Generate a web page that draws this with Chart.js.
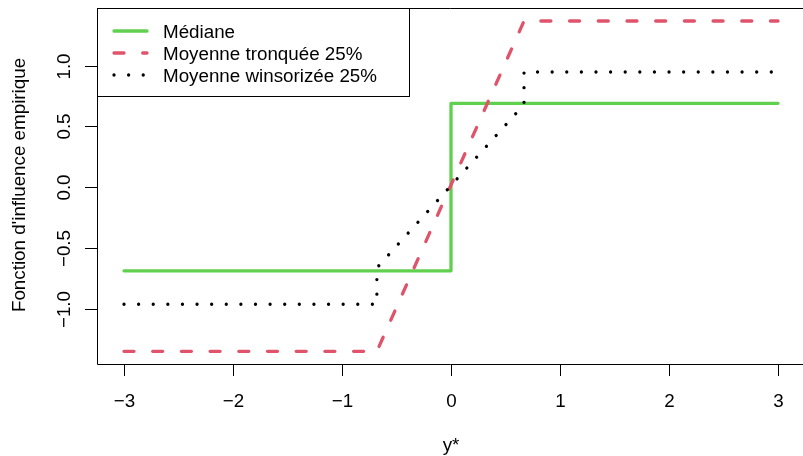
<!DOCTYPE html>
<html>
<head>
<meta charset="utf-8">
<script src="https://cdn.jsdelivr.net/npm/chart.js@4.4.1/dist/chart.umd.min.js"></script>
<style>
  html, body { margin: 0; padding: 0; background: #fff; overflow: hidden; }
  #wrap { width: 803px; height: 456px; }
</style>
</head>
<body>
<div id="wrap"><canvas id="chart" width="803" height="456"></canvas></div>
<script>
// Series
const seriesNames = ['Médiane', 'Moyenne tronquée 25%', 'Moyenne winsorizée 25%'];
const medX = [-3, 0, 0, 3];
const medY = [-0.69, -0.69, 0.69, 0.69];
const trimX = [-3, -0.68, 0.67, 3];
const trimY = [-1.353, -1.353, 1.368, 1.368];
const winsX = [-3, -0.68, -0.68, 0.67, 0.67, 3];
const winsY = [-0.965, -0.965, -0.665, 0.68, 0.948, 0.948];

// Axes
const xTicks = [-3, -2, -1, 0, 1, 2, 3];
const yTicks = [-1, -0.5, 0, 0.5, 1];
const xTitle = 'y*';
const yTitle = "Fonction d'influence empirique";

const FONT = '18.8px "Liberation Sans", Arial, sans-serif';

function pts(xs, ys) {
  return xs.map((x, i) => ({ x: x, y: ys[i] }));
}

function fmtTick(v, digits) {
  const s = Math.abs(v).toFixed(digits);
  return (v < 0 ? '\u2212' : '') + s;
}

// R-like box, axes, titles and legend
const rFrame = {
  id: 'rFrame',
  afterDraw(chart) {
    const ctx = chart.ctx;
    const a = chart.chartArea;
    const xs = chart.scales.x;
    const ys = chart.scales.y;
    ctx.save();
    ctx.strokeStyle = '#000';
    ctx.lineWidth = 1;
    ctx.beginPath();
    ctx.moveTo(a.right + 1, a.top + 0.5);
    ctx.lineTo(a.left + 0.5, a.top + 0.5);
    ctx.lineTo(a.left + 0.5, a.bottom + 0.5);
    ctx.lineTo(a.right + 1, a.bottom + 0.5);
    ctx.stroke();

    ctx.fillStyle = '#000';
    ctx.font = FONT;
    ctx.textAlign = 'center';
    ctx.textBaseline = 'alphabetic';

    // x ticks
    xTicks.forEach(v => {
      const px = Math.round(xs.getPixelForValue(v)) + 0.5;
      ctx.beginPath();
      ctx.moveTo(px, a.bottom);
      ctx.lineTo(px, a.bottom + 12);
      ctx.stroke();
      ctx.fillText(fmtTick(v, 0), px, 406.5);
    });

    // y ticks (labels parallel to axis)
    yTicks.forEach(v => {
      const py = Math.round(ys.getPixelForValue(v)) + 0.5;
      ctx.beginPath();
      ctx.moveTo(a.left, py);
      ctx.lineTo(a.left - 12, py);
      ctx.stroke();
      ctx.save();
      ctx.translate(70, py);
      ctx.rotate(-Math.PI / 2);
      ctx.fillText(fmtTick(v, 1), 0, 0);
      ctx.restore();
    });

    // titles
    ctx.fillText(xTitle, xs.getPixelForValue(0), 451);
    ctx.save();
    ctx.translate(24.5, 185);
    ctx.rotate(-Math.PI / 2);
    ctx.fillText(yTitle, 0, 0);
    ctx.restore();

    // legend
    const bx = 97.5, by = 8.5, bw = 312, bh = 88;
    ctx.fillStyle = '#fff';
    ctx.fillRect(bx, by, bw, bh);
    ctx.strokeStyle = '#000';
    ctx.lineWidth = 1;
    ctx.strokeRect(bx, by, bw, bh);
    const rows = [31, 53, 75];
    chart.data.datasets.forEach((ds, i) => {
      const y = rows[i];
      ctx.save();
      ctx.strokeStyle = ds.borderColor;
      ctx.lineWidth = ds.borderWidth;
      ctx.lineCap = ds.borderCapStyle || 'butt';
      ctx.setLineDash(ds.borderDash || []);
      ctx.beginPath();
      ctx.moveTo(114, y);
      ctx.lineTo(147, y);
      ctx.stroke();
      ctx.restore();
      ctx.fillStyle = '#000';
      ctx.textAlign = 'left';
      ctx.fillText(ds.label, 163, y + 6.8);
    });
    ctx.restore();
  }
};

new Chart(document.getElementById('chart').getContext('2d'), {
  type: 'line',
  data: {
    datasets: [
      {
        label: seriesNames[0],
        data: pts(medX, medY),
        borderColor: '#61D04F',
        borderWidth: 3.3,
        borderCapStyle: 'round',
        borderJoinStyle: 'round',
        order: 3
      },
      {
        label: seriesNames[1],
        data: pts(trimX, trimY),
        borderColor: '#DF536B',
        borderWidth: 3.3,
        borderDash: [10, 18.7],
        borderCapStyle: 'round',
        borderJoinStyle: 'round',
        order: 2
      },
      {
        label: seriesNames[2],
        data: pts(winsX, winsY),
        borderColor: '#000000',
        borderWidth: 3.3,
        borderDash: [0.01, 14.6],
        borderCapStyle: 'round',
        borderJoinStyle: 'round',
        order: 1
      }
    ]
  },
  options: {
    responsive: false,
    animation: false,
    devicePixelRatio: 1,
    layout: { padding: { top: 8, left: 0, right: 0, bottom: 0 } },
    elements: { point: { radius: 0 }, line: { tension: 0, fill: false } },
    plugins: { legend: { display: false }, tooltip: { enabled: false } },
    scales: {
      x: {
        type: 'linear',
        min: -3.2477,
        max: 3.2294,
        grid: { display: false },
        border: { display: false },
        ticks: { display: false },
        afterFit: s => { s.height = 92; }
      },
      y: {
        type: 'linear',
        min: -1.457,
        max: 1.475,
        grid: { display: false },
        border: { display: false },
        ticks: { display: false },
        afterFit: s => { s.width = 97; }
      }
    }
  },
  plugins: [rFrame]
});
</script>
</body>
</html>
